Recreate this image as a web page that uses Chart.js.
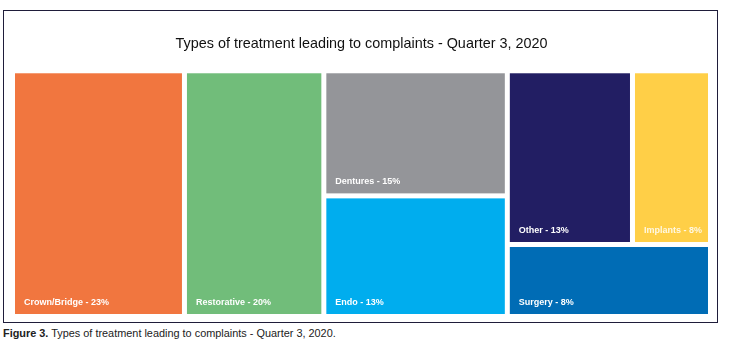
<!DOCTYPE html>
<html>
<head>
<meta charset="utf-8">
<script src="https://cdn.jsdelivr.net/npm/chart.js@4"></script>
<style>
  body { margin: 0; background: #fff; width: 729px; height: 346px; position: relative; font-family: "Liberation Sans", Arial, sans-serif; }
  #frame { position: absolute; left: 3px; top: 10px; width: 713px; height: 311px; border: 1.5px solid #1f1d3a; }
  #frame canvas { display: block; }
  #caption { position: absolute; left: 3px; top: 327px; margin: 0; font-size: 10.9px; color: #222; white-space: nowrap; }
</style>
</head>
<body>
<div id="frame"><canvas id="chart" width="713" height="311"></canvas></div>
<p id="caption"><b>Figure 3.</b> Types of treatment leading to complaints - Quarter 3, 2020.</p>
<script>
const categories = ['Crown/Bridge', 'Restorative', 'Dentures', 'Endo', 'Other', 'Implants', 'Surgery'];
const pctLabels  = [23, 20, 15, 13, 13, 8, 8];
// tile sizes (share of total area)
const tileShare  = [24.6, 19.8, 13.4, 12.9, 13.0, 7.9, 8.3];
const colors = ['#f1763f', '#71bd7a', '#949599', '#00adee', '#221e63', '#ffcf47', '#006cb5'];
// treemap grouping: columns, each a stack of rows, each row a list of tiles
const groups = [[[0]], [[1]], [[2], [3]], [[4, 5], [6]]];
const GAP = 5;

const sum = arr => arr.reduce((a, b) => a + b, 0);

const treemapPlugin = {
  id: 'treemap',
  afterDatasetsDraw(chart) {
    const ctx = chart.ctx;
    const xs = chart.scales.x, ys = chart.scales.y;
    const left = xs.getPixelForValue(0), right = xs.getPixelForValue(1);
    const top = ys.getPixelForValue(0), bottom = ys.getPixelForValue(1);
    const total = sum(tileShare);
    const colW = (right - left) - GAP * (groups.length - 1);
    let x = left;
    groups.forEach(col => {
      const colSum = sum(col.flat().map(i => tileShare[i]));
      const w = colW * colSum / total;
      const colH = (bottom - top) - GAP * (col.length - 1);
      let y = top;
      col.forEach(row => {
        const rowSum = sum(row.map(i => tileShare[i]));
        const h = colH * rowSum / colSum;
        const rowW = w - GAP * (row.length - 1);
        let rx = x;
        row.forEach(i => {
          const rw = rowW * tileShare[i] / rowSum;
          ctx.save();
          ctx.fillStyle = colors[i];
          ctx.fillRect(rx, y, rw, h);
          ctx.fillStyle = i === 5 ? 'rgba(255,255,255,0.85)' : '#ffffff';
          ctx.font = 'bold 9px "Liberation Sans", Arial, sans-serif';
          ctx.textBaseline = 'alphabetic';
          ctx.fillText(categories[i] + ' - ' + pctLabels[i] + '%', rx + 9, y + h - 9);
          ctx.restore();
          rx += rw + GAP;
        });
        y += h + GAP;
      });
      x += w + GAP;
    });
  }
};

new Chart(document.getElementById('chart'), {
  type: 'scatter',
  data: { datasets: [{ data: [] }] },
  options: {
    responsive: false,
    animation: false,
    layout: { padding: { left: 11, right: 9, top: 0, bottom: 8 } },
    plugins: {
      legend: { display: false },
      tooltip: { enabled: false },
      title: {
        display: true,
        text: 'Types of treatment leading to complaints - Quarter 3, 2020',
        color: '#111111',
        font: { family: '"Liberation Sans", Arial, sans-serif', size: 14.4, weight: 'normal' },
        padding: { top: 24, bottom: 21 }
      }
    },
    scales: {
      x: { type: 'linear', min: 0, max: 1, display: false },
      y: { type: 'linear', min: 0, max: 1, reverse: true, display: false }
    }
  },
  plugins: [treemapPlugin]
});
</script>
</body>
</html>
